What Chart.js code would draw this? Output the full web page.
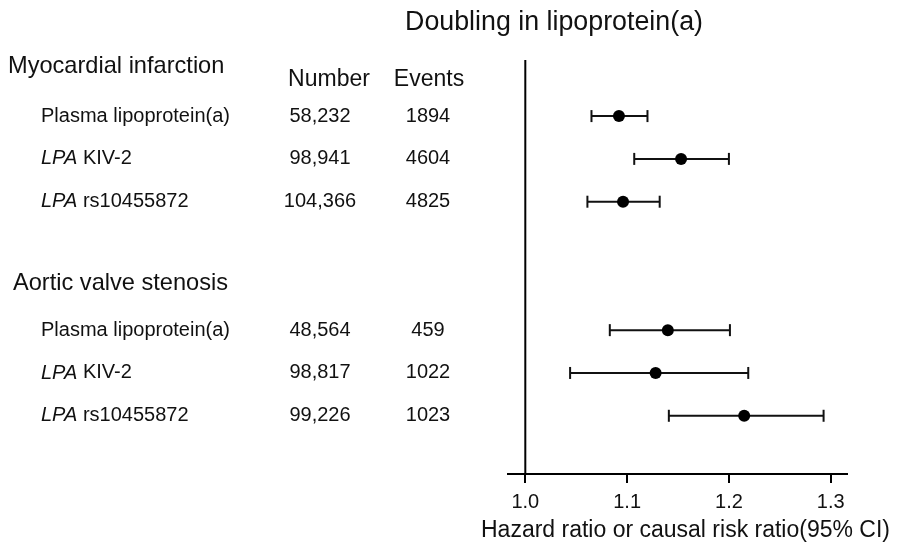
<!DOCTYPE html>
<html>
<head>
<meta charset="utf-8">
<title>Doubling in lipoprotein(a)</title>
<script src="https://cdn.jsdelivr.net/npm/chart.js@4/dist/chart.umd.min.js"></script>
<style>
  html, body { margin: 0; padding: 0; background: #fff; }
  canvas { display: block; }
</style>
</head>
<body>
<canvas id="forest" width="900" height="547"></canvas>
<script>
// Study groups and exposures
const groups = ['Myocardial infarction', 'Aortic valve stenosis'];
const exposures = [
  'Plasma lipoprotein(a)', 'LPA KIV-2', 'LPA rs10455872',
  'Plasma lipoprotein(a)', 'LPA KIV-2', 'LPA rs10455872'
];
const exposureGroup = [0, 0, 0, 1, 1, 1];
const numbers = ['58,232', '98,941', '104,366', '48,564', '98,817', '99,226'];
const events = ['1894', '4604', '4825', '459', '1022', '1023'];

// Ratio per doubling in lipoprotein(a), with 95% CI
const estimate = [1.092, 1.153, 1.096, 1.140, 1.128, 1.215];
const lower    = [1.065, 1.107, 1.061, 1.083, 1.044, 1.141];
const upper    = [1.120, 1.200, 1.132, 1.201, 1.219, 1.293];

const tickValues = [1.0, 1.1, 1.2, 1.3];
const referenceValue = 1.0;
const axisTitle = 'Hazard ratio or causal risk ratio(95% CI)';
const chartTitle = 'Doubling in lipoprotein(a)';

// Row slot of each exposure on the vertical scale (blank slots between groups)
const rowPos = [1, 2, 3, 6, 7, 8];
const groupRow = [-0.17, 4.92];
const headerRow = 0.14;
const Y_MIN = -0.31, Y_MAX = 9.36;

const FONT = "'Liberation Sans', Arial, Helvetica, sans-serif";
const INK = '#111';

const ciSets = exposures.map((_, i) => ({
  type: 'scatter',
  showLine: true,
  data: [{ x: lower[i], y: rowPos[i] }, { x: upper[i], y: rowPos[i] }],
  borderColor: INK,
  borderWidth: 2,
  pointStyle: 'line',
  rotation: 90,
  pointRadius: 6,
  pointBorderWidth: 2,
  pointBorderColor: INK,
  order: 1
}));

const pointSet = {
  type: 'scatter',
  data: estimate.map((v, i) => ({ x: v, y: rowPos[i] })),
  pointRadius: 6,
  pointBackgroundColor: '#000',
  pointBorderWidth: 0,
  order: 0
};

const refLine = {
  type: 'scatter',
  showLine: true,
  data: [{ x: referenceValue, y: Y_MIN }, { x: referenceValue, y: Y_MAX }],
  borderColor: '#000',
  borderWidth: 2,
  pointRadius: 0,
  order: 2
};

// Titles and the left-hand table: group headings, exposure names, counts
const tablePlugin = {
  id: 'forestTable',
  afterDraw(chart) {
    const ctx = chart.ctx;
    const y = chart.scales.y;
    const x = chart.scales.x;
    ctx.save();
    ctx.fillStyle = INK;
    ctx.textBaseline = 'middle';

    // title
    ctx.font = `26.8px ${FONT}`;
    ctx.textAlign = 'center';
    ctx.fillText(chartTitle, 554, 23);

    // x-axis title (wider than the plot area, so drawn here)
    ctx.font = `23px ${FONT}`;
    ctx.fillText(axisTitle, (x.left + x.right) / 2 + 8, 531);

    // group headings
    ctx.font = `23.6px ${FONT}`;
    ctx.textAlign = 'left';
    ctx.fillText(groups[0], 8, y.getPixelForValue(groupRow[0]));
    ctx.fillText(groups[1], 13, y.getPixelForValue(groupRow[1]));

    // column headers
    ctx.textAlign = 'center';
    ctx.font = `23px ${FONT}`;
    const hy = y.getPixelForValue(headerRow);
    ctx.fillText('Number', 329, hy);
    ctx.fillText('Events', 429, hy);

    // rows
    ctx.font = `20px ${FONT}`;
    exposures.forEach((name, i) => {
      const py = y.getPixelForValue(rowPos[i]);
      ctx.textAlign = 'left';
      let tx = 41;
      if (name.startsWith('LPA ')) {
        ctx.font = `italic 20px ${FONT}`;
        ctx.fillText('LPA', tx, py);
        tx += ctx.measureText('LPA').width;
        ctx.font = `20px ${FONT}`;
        ctx.fillText(name.slice(3), tx, py);
      } else {
        ctx.fillText(name, tx, py);
      }
      ctx.textAlign = 'center';
      ctx.fillText(numbers[i], 320, py);
      ctx.fillText(events[i], 428, py);
    });
    ctx.restore();
  }
};

new Chart(document.getElementById('forest'), {
  type: 'scatter',
  data: { datasets: [pointSet, ...ciSets, refLine] },
  options: {
    responsive: false,
    devicePixelRatio: 1,
    animation: false,
    layout: { padding: { left: 508, right: 53, top: 60, bottom: 0 } },
    plugins: { legend: { display: false }, tooltip: { enabled: false } },
    scales: {
      x: {
        type: 'linear',
        min: 0.983,
        max: 1.316,
        afterBuildTicks: s => { s.ticks = tickValues.map(v => ({ value: v })); },
        afterFit: s => { s.height = 73; },
        border: { display: true, color: '#000', width: 2 },
        grid: { display: true, drawOnChartArea: false, drawTicks: true, tickLength: 9, color: '#000', lineWidth: 2 },
        ticks: {
          color: INK,
          padding: 7,
          maxRotation: 0,
          font: { family: FONT, size: 20 },
          callback: v => Number(v).toFixed(1)
        },
        title: { display: false }
      },
      y: {
        type: 'linear',
        reverse: true,
        min: Y_MIN,
        max: Y_MAX,
        display: false
      }
    }
  },
  plugins: [tablePlugin]
});
</script>
</body>
</html>
